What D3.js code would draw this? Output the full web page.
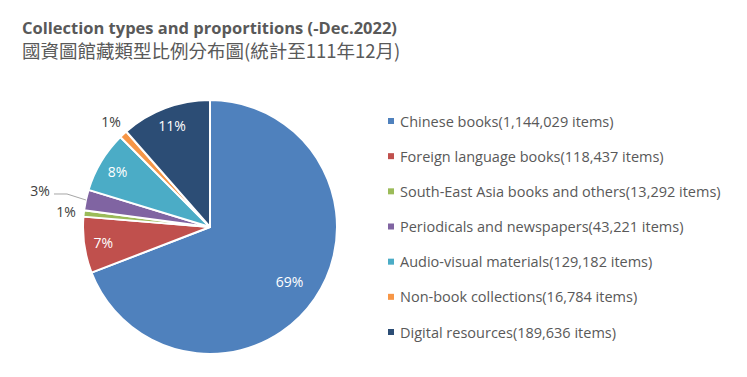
<!DOCTYPE html>
<html>
<head>
<meta charset="utf-8">
<script src="https://cdn.jsdelivr.net/npm/d3@7"></script>
<style>
  body { margin: 0; background: #fff; }
  svg { display: block; }
</style>
</head>
<body>
<div id="vis"></div>
<script>
// Collection types pie, NLPI-style, values to Dec. 2022

const TITLE_EN = "Collection types and proportitions (-Dec.2022)";
const TITLE_ZH = "國資圖館藏類型比例分布圖(統計至111年12月)";

const CATEGORIES = [
  "Chinese books",
  "Foreign language books",
  "South-East Asia books and others",
  "Periodicals and newspapers",
  "Audio-visual materials",
  "Non-book collections",
  "Digital resources",
];
const VALUES = [1144029, 118437, 13292, 43221, 129182, 16784, 189636];
const COLORS = ["#4F81BD", "#C0504D", "#9BBB59", "#8064A2", "#4BACC6", "#F79646", "#2C4D75"];

const W = 747, H = 377;
const CX = 210, CY = 227, R = 127;

const svg = d3.select("#vis").append("svg")
  .attr("width", W)
  .attr("height", H);

// ── Titles ──────────────────────────────────────────────────────────────────

svg.append("text")
  .attr("x", 22).attr("y", 34)
  .style("font-family", "'Open Sans', sans-serif")
  .style("font-weight", "bold")
  .style("font-size", "16.5px")
  .style("fill", "#595959")
  .text(TITLE_EN);

svg.append("text")
  .attr("x", 22).attr("y", 58)
  .style("font-family", "'Noto Sans CJK TC', sans-serif")
  .style("font-size", "18.5px")
  .style("fill", "#595959")
  .text(TITLE_ZH);

// ── Pie ─────────────────────────────────────────────────────────────────────

const data = CATEGORIES.map((name, i) => ({ name, value: VALUES[i], color: COLORS[i] }));
const total = d3.sum(VALUES);

const pie = d3.pie().sort(null).value(d => d.value);
const arcs = pie(data);
const arc = d3.arc().innerRadius(0).outerRadius(R);

const g = svg.append("g").attr("transform", `translate(${CX},${CY})`);

g.selectAll("path")
  .data(arcs)
  .join("path")
    .attr("d", arc)
    .attr("fill", d => d.data.color)
    .attr("stroke", "#fff")
    .attr("stroke-width", 2)
    .attr("stroke-linejoin", "round");

// ── Data labels ─────────────────────────────────────────────────────────────

const pct = d => Math.round(d.data.value / total * 100) + "%";
const mid = d => (d.startAngle + d.endAngle) / 2;
const at = (a, r) => [Math.sin(a) * r, -Math.cos(a) * r];

arcs.forEach((d, i) => {
  const share = d.data.value / total;
  const a = mid(d);
  let r, fill;
  if (share > 0.5)       { r = R * 0.76; fill = "#fff"; }
  else if (share > 0.05) { r = R * 0.85; fill = "#fff"; }
  else if (share > 0.02) { r = R * 1.37; fill = "#404040"; }
  else                   { r = R * 1.14; fill = "#404040"; }
  const [x, y] = at(a, r);

  // leader line for the mid-size outside label
  if (share > 0.02 && share <= 0.05) {
    const [ex, ey] = at(a, R);
    const lx = x + 14, ly = y + 4;
    g.append("polyline")
      .attr("points", `${ex},${ey} ${lx + 13},${ly} ${lx},${ly}`)
      .attr("fill", "none")
      .attr("stroke", "#a6a6a6")
      .attr("stroke-width", 1);
  }

  g.append("text")
    .attr("x", x).attr("y", y)
    .attr("text-anchor", "middle")
    .attr("dominant-baseline", "central")
    .style("font-family", "'Open Sans', sans-serif")
    .style("font-size", "14px")
    .style("fill", fill)
    .text(pct(d));
});

// ── Legend ──────────────────────────────────────────────────────────────────

const legendY = d3.scalePoint()
  .domain(CATEGORIES)
  .range([121, 332]);

const fmt = d3.format(",");

const legend = svg.append("g")
  .selectAll("g")
  .data(data)
  .join("g")
    .attr("transform", d => `translate(388,${legendY(d.name)})`);

legend.append("rect")
  .attr("x", 0).attr("y", -3)
  .attr("width", 6).attr("height", 6)
  .attr("fill", d => d.color);

legend.append("text")
  .attr("x", 12).attr("y", 0)
  .attr("dominant-baseline", "central")
  .style("font-family", "'Open Sans', sans-serif")
  .style("font-size", "14.5px")
  .style("fill", "#595959")
  .text(d => `${d.name}(${fmt(d.value)} items)`);
</script>
</body>
</html>
